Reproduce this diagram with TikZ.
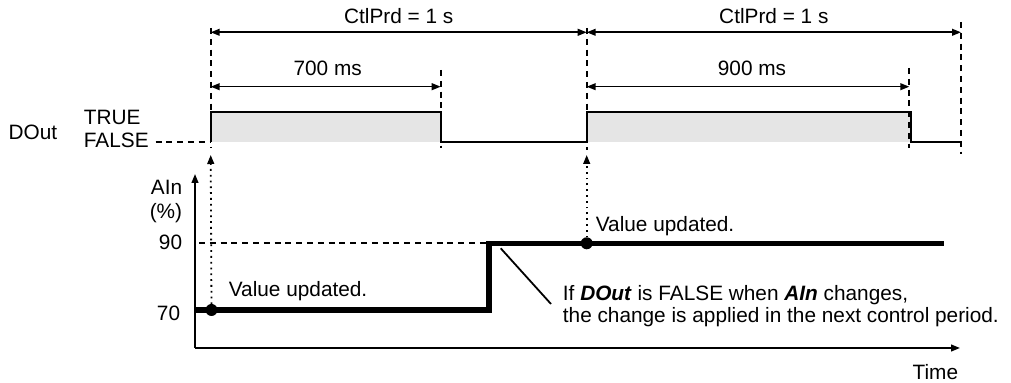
\documentclass[tikz,border=0pt]{standalone}
\usepackage{fontspec}
\setmainfont{Liberation Sans}
\usetikzlibrary{arrows.meta}
\begin{document}
\begin{tikzpicture}[x=0.5pt,y=-0.5pt,>={Triangle[length=4.5pt,width=3.4pt]},
  font=\fontsize{10.4}{9.4}\selectfont,line width=0.9pt,
  guide/.style={dashed,dash pattern=on 3pt off 2.4pt},
  dimline/.style={<->,line width=0.8pt},
  signal/.style={line width=2.6pt,line join=miter},
  dot/.style={circle,fill,inner sep=0pt,minimum size=6pt}]
\useasboundingbox (0,0) rectangle (1011,383);
% DOut timing
\fill[gray!20] (210.7,112.3) rectangle (441,141.7);
\fill[gray!20] (586.7,112.3) rectangle (911,141.7);
\node (dout) at (33,132) {DOut};
\node[anchor=west,inner sep=0pt] (true) at (83,117) {TRUE};
\node[anchor=west,inner sep=0pt] (false) at (83,140) {FALSE};
\coordinate (r1) at (210.7,141.7);
\coordinate (f1) at (441,141.7);
\coordinate (r2) at (586.7,141.7);
\coordinate (f2) at (911,141.7);
\coordinate (e2) at (961,141.7);
\draw[guide] ([xshift=3pt]false.east |- r1) -- (r1);
\draw (r1) -- ++(0,-29.4) -| (f1) -- (r2) -- ++(0,-29.4) -| (f2) -- (e2);
% period marks
\draw[guide] (210.7,28) -- (210.7,147);
\draw[guide] (440.7,70) -- (440.7,148);
\draw[guide] (586.7,28) -- (586.7,150);
\draw[guide] (909.3,68) -- (909.3,148);
\draw[guide] (961,22) -- (961,154);
\draw[dimline] (210.7,32.3) -- node[above=4pt,inner sep=0pt] (prd1) {CtlPrd = 1 s} (586.7,32.3);
\draw[dimline] (586.7,32.3) -- node[above=4pt,inner sep=0pt] (prd2) {CtlPrd = 1 s} (961,32.3);
\draw[dimline] (210.7,86.7) -- node[above=5pt,inner sep=0pt,xshift=1pt] (on1) {700 ms} (440.7,86.7);
\draw[dimline] (586.7,86.7) -- node[above=5pt,inner sep=0pt,xshift=2pt] (on2) {900 ms} (909.3,86.7);
% AIn graph
\coordinate (o) at (195,348);
\draw[->] (o) -- (195,174);
\draw[->] (o) -- (960,348);
\node[anchor=east,inner sep=0pt] (ain) at (183,187) {AIn};
\node[anchor=east,inner sep=0pt] (pct) at (183,213) {(\%)};
\node[anchor=east,inner sep=0pt] (v90) at (183,242) {90};
\node[anchor=east,inner sep=0pt] (v70) at (181,313) {70};
\node[anchor=north east,inner sep=0pt] (time) at (959,364) {Time};
\draw[guide] (199,243.3) -- (489,243.3);
\draw[signal] (195,310) -- (489,310) -- (489,243.3) -- (944,243.3);
\node[dot] (upd1) at (211.5,310) {};
\node[dot] (upd2) at (586.7,243.3) {};
\draw[->,dotted,line width=0.9pt] (upd1.center) -- (210.7,155);
\draw[->,dotted,line width=0.9pt] (upd2.center) -- (586.7,155);
\node[anchor=west,inner sep=0pt] (lbl1) at (228,291) {Value updated.};
\node[anchor=west,inner sep=0pt] (lbl2) at (595,226) {Value updated.};
\node[anchor=west,inner sep=0pt,align=left] (note) at (562,306)
  {If \textbf{\textit{DOut}} is FALSE when \textbf{\textit{AIn}} changes,\\
   the change is applied in the next control period.};
\coordinate (tip) at (500.7,248.3);
\draw (tip) -- (551,304);
\end{tikzpicture}
\end{document}
